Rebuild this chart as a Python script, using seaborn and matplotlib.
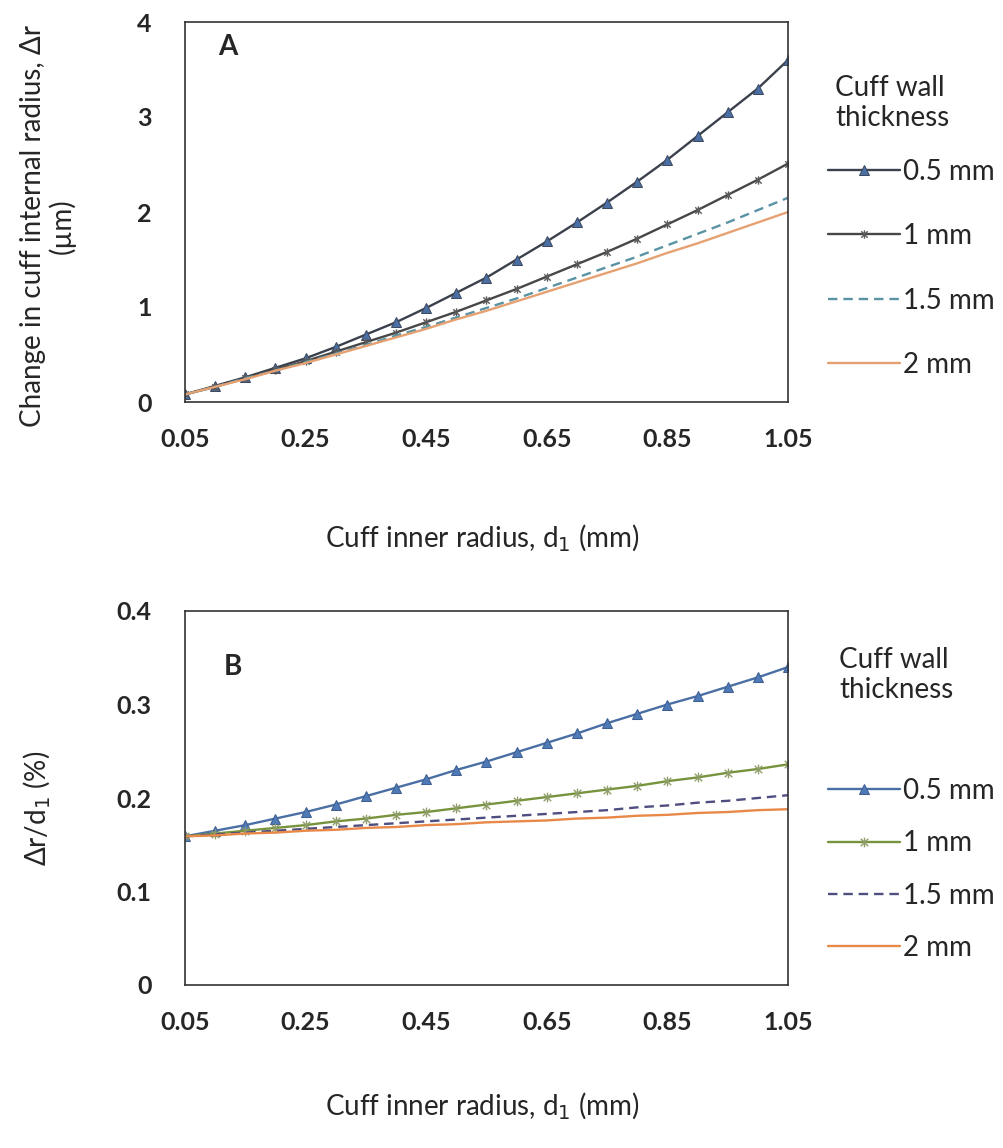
import numpy as np
import pandas as pd
import seaborn as sns
import matplotlib.pyplot as plt
from matplotlib.path import Path

# cuff inner radius (mm)
radius = [0.05, 0.10, 0.15, 0.20, 0.25, 0.30, 0.35, 0.40, 0.45, 0.50, 0.55,
          0.60, 0.65, 0.70, 0.75, 0.80, 0.85, 0.90, 0.95, 1.00, 1.05]
thickness_labels = ["0.5 mm", "1 mm", "1.5 mm", "2 mm"]

# Panel A: change in cuff internal radius (um)
dr_05 = [0.08, 0.17, 0.26, 0.36, 0.46, 0.58, 0.71, 0.84, 0.99, 1.15, 1.31,
         1.50, 1.69, 1.89, 2.10, 2.32, 2.55, 2.80, 3.05, 3.30, 3.60]
dr_10 = [0.08, 0.16, 0.25, 0.34, 0.43, 0.53, 0.63, 0.73, 0.84, 0.95, 1.07,
         1.19, 1.32, 1.45, 1.58, 1.72, 1.87, 2.02, 2.18, 2.34, 2.51]
dr_15 = [0.08, 0.16, 0.25, 0.33, 0.42, 0.51, 0.60, 0.70, 0.79, 0.89, 0.99,
         1.09, 1.20, 1.31, 1.42, 1.53, 1.65, 1.77, 1.89, 2.02, 2.15]
dr_20 = [0.08, 0.16, 0.24, 0.33, 0.41, 0.50, 0.59, 0.68, 0.77, 0.87, 0.96,
         1.06, 1.16, 1.26, 1.36, 1.46, 1.57, 1.67, 1.78, 1.89, 2.00]

# Panel B: dr/d1 (%)
ratio_05 = [0.159, 0.165, 0.171, 0.178, 0.185, 0.193, 0.202, 0.211, 0.220, 0.230, 0.239,
            0.249, 0.259, 0.269, 0.280, 0.290, 0.300, 0.309, 0.319, 0.329, 0.340]
ratio_10 = [0.159, 0.162, 0.165, 0.168, 0.171, 0.175, 0.178, 0.182, 0.185, 0.189, 0.193,
            0.197, 0.201, 0.205, 0.209, 0.213, 0.218, 0.222, 0.227, 0.231, 0.236]
ratio_15 = [0.159, 0.161, 0.163, 0.165, 0.167, 0.169, 0.171, 0.173, 0.175, 0.177, 0.179,
            0.181, 0.183, 0.185, 0.187, 0.190, 0.192, 0.195, 0.197, 0.200, 0.203]
ratio_20 = [0.159, 0.160, 0.162, 0.163, 0.165, 0.166, 0.168, 0.169, 0.171, 0.172, 0.174,
            0.175, 0.176, 0.178, 0.179, 0.181, 0.182, 0.184, 0.185, 0.187, 0.188]

sns.set_style("white")
plt.rcParams['font.family'] = ['Lato', 'DejaVu Sans']

# Excel-like "star" marker: x with a vertical bar
star = Path([(-1, -1), (1, 1), (-1, 1), (1, -1), (0, -1.3), (0, 1.3)],
            [Path.MOVETO, Path.LINETO, Path.MOVETO, Path.LINETO, Path.MOVETO, Path.LINETO])

styles_a = [
    dict(color='#3a414d', marker='^', markersize=6.5, markerfacecolor='#4a6fa5', markeredgecolor='#3d4a60', linestyle='-'),
    dict(color='#474747', marker=star, markersize=6, markeredgecolor='#5a5a5a', markeredgewidth=1.0, linestyle='-'),
    dict(color='#5a93a3', marker=None, linestyle=(0, (4, 2.5))),
    dict(color='#e6a172', marker=None, linestyle='-'),
]
styles_b = [
    dict(color='#4a6fa5', marker='^', markersize=6.5, markerfacecolor='#4f7ab8', markeredgecolor='#3f5f90', linestyle='-'),
    dict(color='#77933c', marker=star, markersize=7, markeredgecolor='#8f9d6a', markeredgewidth=1.0, linestyle='-'),
    dict(color='#4e4e80', marker=None, linestyle=(0, (4, 2.5))),
    dict(color='#e8894a', marker=None, linestyle='-'),
]

fig = plt.figure(figsize=(10.04, 11.48), dpi=100)
ax_a = fig.add_axes([185/1004, 1 - 402/1148, 603/1004, 380/1148])
ax_b = fig.add_axes([185/1004, 1 - 985/1148, 603/1004, 374/1148])

panels = [
    (ax_a, [dr_05, dr_10, dr_15, dr_20], styles_a, 4, 1, "A", 0.055, 0.935),
    (ax_b, [ratio_05, ratio_10, ratio_15, ratio_20], styles_b, 0.4, 0.1, "B", 0.065, 0.85),
]

for ax, series, styles, ymax, ystep, tag, tx, ty in panels:
    for vals, lab, st in zip(series, thickness_labels, styles):
        df = pd.DataFrame({'radius': radius, 'value': vals})
        sns.lineplot(data=df, x='radius', y='value', ax=ax, label=lab, lw=1.7, **st)
    ax.set_xlim(0.05, 1.05)
    ax.set_ylim(0, ymax)
    ax.set_xticks([0.05, 0.25, 0.45, 0.65, 0.85, 1.05])
    ax.set_xticklabels(["0.05", "0.25", "0.45", "0.65", "0.85", "1.05"])
    yt = np.round(np.arange(0, ymax + ystep / 2, ystep), 2)
    ax.set_yticks(yt)
    ax.set_yticklabels([f"{v:g}" for v in yt])
    ax.tick_params(axis='both', direction='out', length=5, width=1, color='#444444',
                   labelsize=18)
    ax.tick_params(axis='y', pad=19)
    ax.tick_params(axis='x', pad=14)
    for lbl in ax.get_xticklabels() + ax.get_yticklabels():
        lbl.set_fontweight('bold')
    for sp in ax.spines.values():
        sp.set_visible(True)
        sp.set_color('#333333')
        sp.set_linewidth(1.2)
    ax.set_xlabel("")
    ax.set_ylabel("")
    ax.text(tx, ty, tag, transform=ax.transAxes, fontsize=20, fontweight='bold', va='center')
    ax.get_legend().remove()

# legends placed to the right of each panel
h, l = ax_a.get_legend_handles_labels()
fig.legend(h, l, loc='upper left', bbox_to_anchor=(814/1004, 1 - 145/1148), frameon=False,
           fontsize=20, handlelength=2.6, handletextpad=0.1, labelspacing=1.38, borderpad=0)
h, l = ax_b.get_legend_handles_labels()
fig.legend(h, l, loc='upper left', bbox_to_anchor=(814/1004, 1 - 764/1148), frameon=False,
           fontsize=20, handlelength=2.6, handletextpad=0.1, labelspacing=0.95, borderpad=0)

fig.text(835/1004, 1 - 103/1148, "Cuff wall\nthickness", fontsize=20, va='center', ha='left', linespacing=1.15)
fig.text(839/1004, 1 - 675/1148, "Cuff wall\nthickness", fontsize=20, va='center', ha='left', linespacing=1.15)

# axis titles
fig.text(482/1004, 1 - 538/1148, "Cuff inner radius, d$_1$ (mm)", fontsize=20, ha='center', va='center')
fig.text(482/1004, 1 - 1106/1148, "Cuff inner radius, d$_1$ (mm)", fontsize=20, ha='center', va='center')
fig.text(48/1004, 1 - 226/1148, "Change in cuff internal radius, Δr\n(µm)", fontsize=20,
         rotation=90, ha='center', va='center', multialignment='center', linespacing=1.1)
fig.text(37/1004, 1 - 808/1148, "Δr/d$_1$ (%)", fontsize=20, rotation=90, ha='center', va='center')

plt.savefig("out.png", dpi=100)
plt.close()
